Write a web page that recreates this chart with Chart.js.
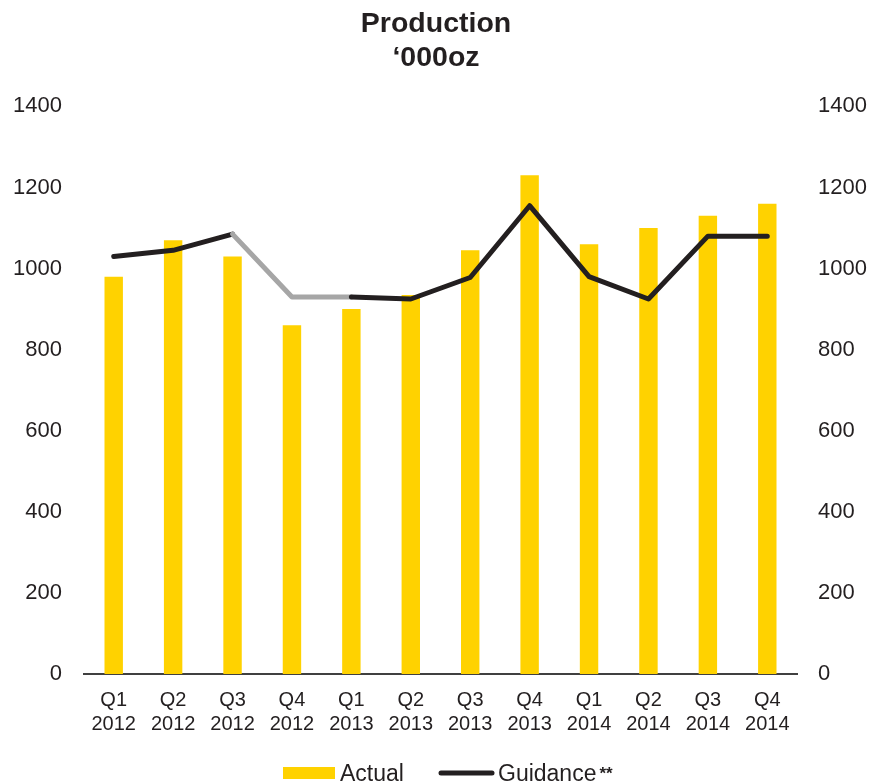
<!DOCTYPE html>
<html>
<head>
<meta charset="utf-8">
<script src="https://cdn.jsdelivr.net/npm/chart.js@4/dist/chart.umd.min.js"></script>
<style>
  html, body { margin: 0; padding: 0; background: #ffffff; }
  #wrap { width: 872px; height: 784px; }
</style>
</head>
<body>
<div id="wrap"><canvas id="chart" width="872" height="784"></canvas></div>
<script>
// Quarterly production, thousand ounces
const quarters = [
  ["Q1", "2012"], ["Q2", "2012"], ["Q3", "2012"], ["Q4", "2012"],
  ["Q1", "2013"], ["Q2", "2013"], ["Q3", "2013"], ["Q4", "2013"],
  ["Q1", "2014"], ["Q2", "2014"], ["Q3", "2014"], ["Q4", "2014"]
];
const actual   = [980, 1070, 1030, 860, 900, 935, 1045, 1230, 1060, 1100, 1130, 1160];
const guidance = [1030, 1045, 1085, 930, 930, 925, 978, 1155, 980, 925, 1080, 1080];
const yTicks   = [0, 200, 400, 600, 800, 1000, 1200, 1400];

const YELLOW = "#FFD200";
const INK = "#231F20";
const GREY = "#A6A6A6";
const FONT = "'Liberation Sans', Arial, sans-serif";

// Segments from Q3 2012 to Q1 2013 are shown in grey
const greySegments = [2, 3];

// Legend drawn beneath the axis labels
const legendPlugin = {
  id: "bottomLegend",
  afterDraw(chart) {
    const ctx = chart.ctx;
    const y = 773;
    ctx.save();
    ctx.fillStyle = YELLOW;
    ctx.fillRect(283, y - 6, 52, 12);
    ctx.fillStyle = "#231F20";
    ctx.font = "23px " + FONT;
    ctx.textBaseline = "alphabetic";
    ctx.textAlign = "left";
    ctx.fillText(chart.data.datasets[0].label, 340, 781);
    ctx.strokeStyle = INK;
    ctx.lineWidth = 5;
    ctx.lineCap = "round";
    ctx.beginPath();
    ctx.moveTo(441, y);
    ctx.lineTo(492, y);
    ctx.stroke();
    ctx.fillText(chart.data.datasets[1].label, 498, 781);
    const w = ctx.measureText(chart.data.datasets[1].label).width;
    ctx.font = "bold 17px " + FONT;
    ctx.fillText("**", 498 + w + 3, 779);
    ctx.restore();
  }
};

const plainTick = v => String(v);

new Chart(document.getElementById("chart"), {
  data: {
    labels: quarters,
    datasets: [
      {
        type: "bar",
        label: "Actual",
        data: actual,
        backgroundColor: YELLOW,
        barPercentage: 0.31,
        categoryPercentage: 1.0,
        yAxisID: "y",
        order: 2
      },
      {
        type: "line",
        label: "Guidance",
        data: guidance,
        borderColor: INK,
        borderWidth: 5,
        borderCapStyle: "round",
        borderJoinStyle: "round",
        pointRadius: 0,
        tension: 0,
        fill: false,
        yAxisID: "y",
        order: 1,
        segment: {
          borderColor: c => greySegments.includes(c.p0DataIndex) ? GREY : INK
        }
      }
    ]
  },
  options: {
    responsive: false,
    animation: false,
    layout: { padding: { top: 0, bottom: 34, left: 0, right: 0 } },
    plugins: {
      legend: { display: false },
      tooltip: { enabled: false },
      title: {
        display: true,
        text: ["Production", "\u2018000oz"],
        color: INK,
        font: { family: FONT, size: 28.5, weight: "bold", lineHeight: 1.2 },
        padding: { top: 7, bottom: 31 }
      }
    },
    scales: {
      x: {
        grid: { display: false, drawTicks: false },
        border: { display: true, color: "#404040", width: 2 },
        ticks: {
          color: INK,
          font: { family: FONT, size: 20, lineHeight: 1.2 },
          padding: 14,
          maxRotation: 0,
          autoSkip: false
        }
      },
      y: {
        position: "left",
        min: 0,
        max: 1400,
        afterBuildTicks: s => { s.ticks = yTicks.map(v => ({ value: v })); },
        afterFit: s => { s.width = 84; },
        grid: { display: false, drawTicks: false },
        border: { display: false },
        ticks: {
          color: INK,
          font: { family: FONT, size: 22 },
          padding: 22,
          callback: plainTick
        }
      },
      y2: {
        position: "right",
        min: 0,
        max: 1400,
        afterBuildTicks: s => { s.ticks = yTicks.map(v => ({ value: v })); },
        afterFit: s => { s.width = 75; },
        grid: { display: false, drawTicks: false },
        border: { display: false },
        ticks: {
          color: INK,
          font: { family: FONT, size: 22 },
          padding: 21,
          callback: plainTick
        }
      }
    }
  },
  plugins: [legendPlugin]
});
</script>
</body>
</html>
